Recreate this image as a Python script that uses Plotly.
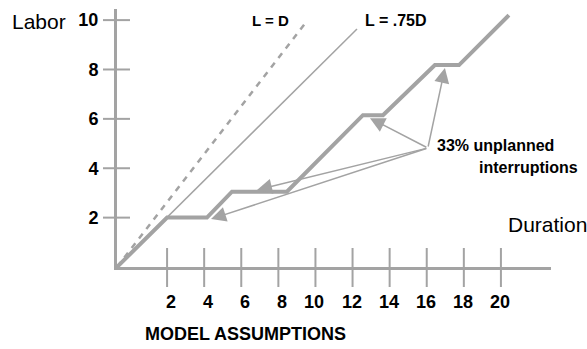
import plotly.graph_objects as go

# schematic values (x in duration units, y in labor units)
x_ticks = [2, 4, 6, 8, 10, 12, 14, 16, 18, 20]
x_tick_text = [str(v) for v in x_ticks]
y_ticks = [2, 4, 6, 8, 10]
y_tick_text = [str(v) for v in y_ticks]

origin_x = -0.7
stair_x = [-0.7, 2.0, 4.15, 5.5, 8.46, 12.56, 13.64, 16.44, 17.74, 20.43]
stair_y = [0, 2.0, 2.0, 3.05, 3.05, 6.15, 6.15, 8.18, 8.18, 10.2]

ld_x = [-0.7, 9.46]
ld_y = [0, 9.88]
l75_x = [-0.7, 12.24]
l75_y = [0, 9.64]

arrow_src = (16.06, 4.82)
arrow_tip_x = [16.98, 12.94, 6.85, 4.37]
arrow_tip_y = [8.06, 6.03, 3.12, 1.94]

GRAY = "#a3a3a3"
FONT = "Liberation Sans, Arial, sans-serif"

fig = go.Figure()

fig.add_trace(go.Scatter(
    x=ld_x, y=ld_y, mode="lines",
    line=dict(color=GRAY, width=2.5, dash="6px,6px"),
    hoverinfo="skip",
))
fig.add_trace(go.Scatter(
    x=l75_x, y=l75_y, mode="lines",
    line=dict(color=GRAY, width=1.5),
    hoverinfo="skip",
))
fig.add_trace(go.Scatter(
    x=stair_x, y=stair_y, mode="lines",
    line=dict(color=GRAY, width=4),
    hoverinfo="skip",
))

# crossing tick marks
shapes = []
for v in x_ticks:
    shapes.append(dict(
        type="line", xref="x", x0=v, x1=v,
        yref="paper", ysizemode="pixel", yanchor=0, y0=-20, y1=19,
        line=dict(color=GRAY, width=2),
    ))
for v in y_ticks:
    shapes.append(dict(
        type="line", yref="y", y0=v, y1=v,
        xref="paper", xsizemode="pixel", xanchor=0, x0=-14, x1=13,
        line=dict(color=GRAY, width=2),
    ))

annotations = []
for tx, ty in zip(arrow_tip_x, arrow_tip_y):
    annotations.append(dict(
        x=tx, y=ty, ax=arrow_src[0], ay=arrow_src[1],
        xref="x", yref="y", axref="x", ayref="y",
        text="", showarrow=True, arrowhead=2, arrowsize=2,
        arrowwidth=1.5, arrowcolor=GRAY, standoff=0,
    ))

for v, t in zip(x_ticks, x_tick_text):
    annotations.append(dict(
        x=v, y=0, xref="x", yref="y", text=t, showarrow=False,
        xanchor="right", yanchor="middle", xshift=11, yshift=-35,
        font=dict(family=FONT, size=18, color="black", weight="bold"),
    ))

labels = [
    ("L = D", 7.6, 10.0, "center", "bold", 15),
    ("L = .75D", 12.56, 10.0, "left", "bold", 16),
    ("33% unplanned", 16.44, 4.94, "left", "bold", 16),
    ("interruptions", 18.71, 4.05, "left", "bold", 16),
    ("Duration", 20.27, 1.74, "left", "normal", 21),
]
for text, lx, ly, anchor, weight, size in labels:
    annotations.append(dict(
        x=lx, y=ly, xref="x", yref="y", text=text, showarrow=False,
        xanchor=anchor, yanchor="middle",
        font=dict(family=FONT, size=size, color="black", weight=weight),
    ))

annotations.append(dict(
    x=-0.2465, y=0.95, xref="paper", yref="paper", text="Labor",
    showarrow=False, xanchor="left", yanchor="middle",
    font=dict(family=FONT, size=21, color="black"),
))
annotations.append(dict(
    x=0.297, y=-0.26, xref="paper", yref="paper", text="MODEL ASSUMPTIONS",
    showarrow=False, xanchor="center", yanchor="middle",
    font=dict(family=FONT, size=18, color="black", weight="bold"),
))

fig.update_layout(
    width=587, height=349,
    margin=dict(l=117, r=36, t=9, b=82),
    paper_bgcolor="white", plot_bgcolor="white",
    showlegend=False,
    shapes=shapes,
    annotations=annotations,
    xaxis=dict(
        range=[origin_x, 22.7], showgrid=False, zeroline=False,
        showline=True, linecolor=GRAY, linewidth=3,
        showticklabels=False, ticks="", automargin=False,
    ),
    yaxis=dict(
        range=[0, 10.45], showgrid=False, zeroline=False,
        showline=True, linecolor=GRAY, linewidth=3,
        tickvals=y_ticks, ticktext=y_tick_text, ticks="",
        ticklabelstandoff=12, automargin=False,
        tickfont=dict(family=FONT, size=18, color="black", weight="bold"),
    ),
)

# the page's default 8px body margin would shift the whole figure
fig.write_html(
    "out.html",
    config={"displayModeBar": False},
    post_script="document.body.style.margin = '0';",
)
